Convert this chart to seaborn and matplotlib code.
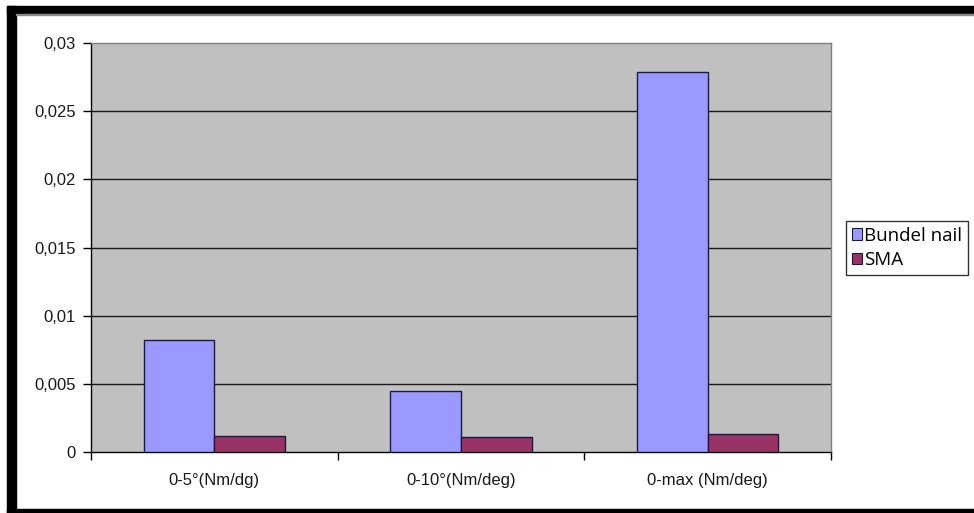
import matplotlib
matplotlib.use("Agg")
import matplotlib.pyplot as plt
from matplotlib.patches import Rectangle, Patch
import seaborn as sns
import pandas as pd

# Data
categories = ["0-5°(Nm/dg)", "0-10°(Nm/deg)", "0-max (Nm/deg)"]
series_names = ["Bundel nail", "SMA"]
bundel_nail = [0.0082, 0.0045, 0.0279]
sma = [0.0012, 0.0011, 0.0013]
y_ticks = [0, 0.005, 0.01, 0.015, 0.02, 0.025, 0.03]
y_tick_labels = ["0", "0,005", "0,01", "0,015", "0,02", "0,025", "0,03"]
colors = ["#9999FF", "#993366"]

df = pd.DataFrame({
    "category": categories * 2,
    "series": [series_names[0]] * 3 + [series_names[1]] * 3,
    "value": bundel_nail + sma,
})

plt.rcParams["font.family"] = ["Liberation Sans", "DejaVu Sans"]

W, H = 974, 513
fig = plt.figure(figsize=(W / 100, H / 100), dpi=100)
fig.patch.set_facecolor("white")

ax = fig.add_axes([91 / W, 1 - 452 / H, (831 - 91) / W, (452 - 43) / H])
ax.set_facecolor("#C0C0C0")

sns.barplot(data=df, x="category", y="value", hue="series",
            palette=colors, width=0.572, gap=0, edgecolor="#1a1a40",
            linewidth=1.0, saturation=1, ax=ax, legend=False, zorder=3)

ax.set_xlim(-0.5, 2.5)
ax.set_ylim(0, 0.03)
ax.set_yticks(y_ticks)
ax.set_yticklabels(y_tick_labels)
ax.set_xlabel("")
ax.set_ylabel("")

# horizontal gridlines
for yv in y_ticks[1:-1]:
    ax.axhline(yv, color="#1a1a1a", lw=1.0, zorder=1)

# category tick marks between groups
ax.set_xticks([0, 1, 2])
ax.set_xticklabels(categories)
ax.set_xticks([-0.5, 0.5, 1.5, 2.5], minor=True)
ax.tick_params(axis="x", which="major", length=0, pad=15, labelsize=12, colors="#1a1a1a")
ax.tick_params(axis="x", which="minor", length=6, width=1, color="black", direction="out")
ax.tick_params(axis="y", length=6, width=1, color="black", labelsize=12,
               labelcolor="#1a1a1a", pad=5, direction="out")

for side in ["left", "bottom"]:
    ax.spines[side].set_color("black")
    ax.spines[side].set_linewidth(1.0)
for side in ["top", "right"]:
    ax.spines[side].set_color("#808080")
    ax.spines[side].set_linewidth(1.0)

# legend
handles = [Patch(facecolor=c, edgecolor="#1a1a40", lw=0.8) for c in colors]
leg = fig.legend(handles, series_names, loc="center left",
                 bbox_to_anchor=(846 / W, 1 - 248 / H),
                 frameon=True, fancybox=False, edgecolor="black",
                 handlelength=0.55, handleheight=0.55, handletextpad=0.12,
                 borderpad=0.3, labelspacing=0.35, borderaxespad=0,
                 prop={"family": "Open Sans", "size": 13.5})
leg.get_frame().set_linewidth(1.0)

# black frame around the chart
fig.patches.append(Rectangle((7 / W, 1 - 14 / H), 1 - 7 / W, 8 / H,
                             transform=fig.transFigure, color="black", zorder=10))
fig.patches.append(Rectangle((7 / W, 0), 9 / W, 1 - 6 / H,
                             transform=fig.transFigure, color="black", zorder=10))
fig.patches.append(Rectangle((7 / W, 0), 1 - 7 / W, 4 / H,
                             transform=fig.transFigure, color="black", zorder=10))
fig.patches.append(Rectangle((16 / W, 1 - 15 / H), 1, 1 / H,
                             transform=fig.transFigure, color="#8a8a8a", zorder=10))

fig.savefig("out.png", dpi=100)
